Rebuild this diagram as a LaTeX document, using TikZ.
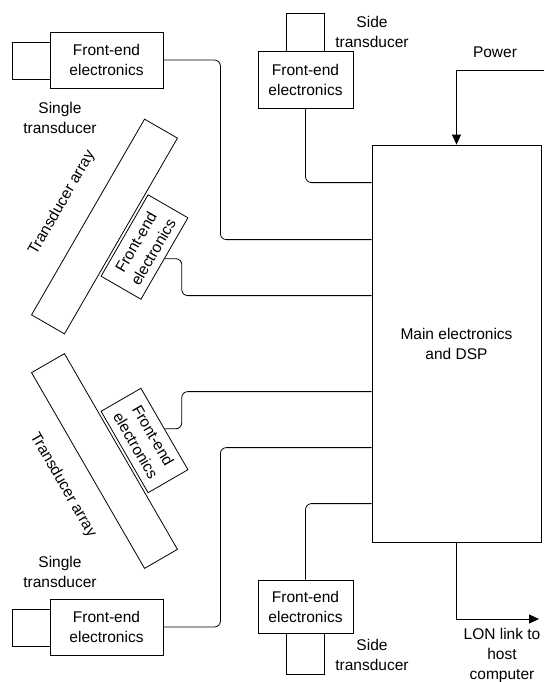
\documentclass[tikz,border=0pt]{standalone}
\usepackage{fontspec}
\setmainfont{Liberation Sans}
\usetikzlibrary{arrows.meta,calc}
\newcommand\diagfont{\fontsize{15.5}{20}\selectfont}
\begin{document}
\begin{tikzpicture}[x=1pt,y=-1pt,
  box/.style={draw,line width=0.8pt,inner sep=0pt,align=center,font=\diagfont,fill=white},
  lbl/.style={inner sep=0pt,align=center,font=\diagfont},
  wire/.style={draw,line width=0.8pt,rounded corners=6pt},
  arr/.style={draw,line width=0.8pt,-{Triangle[length=10pt,width=9pt]}}]
\useasboundingbox (0,0) rectangle (544,682);

% main box
\node[box,minimum width=169pt,minimum height=397pt] (main) at (456.5,343.5) {Main electronics\\and DSP};

% top-left single transducer
\node[box,minimum width=38pt,minimum height=37pt] (sqtl) at (31,60.5) {};
\node[box,minimum width=113pt,minimum height=56pt] (fetl) at (106.5,60) {Front-end\\electronics};
\node[lbl] (sttl) at (60,118) {Single\\transducer};

% top side transducer
\node[box,minimum width=38pt,minimum height=38pt] (sqts) at (305,32) {};
\node[box,minimum width=95pt,minimum height=57pt] (fets) at (305.5,79.5) {Front-end\\electronics};
\node[lbl] (stts) at (372,32) {Side\\transducer};

% upper transducer array
\node[box,minimum width=226pt,minimum height=38pt,rotate=60] (arr1) at (104.5,226.5) {};
\node[lbl,rotate=60] (arr1l) at (62,203) {Transducer array};
\node[box,minimum width=94pt,minimum height=46pt,rotate=60] (fe1) at (144.5,247) {Front-end\\electronics};

% lower transducer array
\node[box,minimum width=226pt,minimum height=38pt,rotate=-60] (arr2) at (104.5,461) {};
\node[lbl,rotate=-60] (arr2l) at (63,485) {Transducer array};
\node[box,minimum width=94pt,minimum height=46pt,rotate=-60] (fe2) at (144.5,440.5) {Front-end\\electronics};

% bottom-left single transducer
\node[lbl] (stbl) at (60,572) {Single\\transducer};
\node[box,minimum width=38pt,minimum height=37pt] (sqbl) at (31,627.5) {};
\node[box,minimum width=113pt,minimum height=56pt] (febl) at (106.5,627) {Front-end\\electronics};

% bottom side transducer
\node[box,minimum width=95pt,minimum height=53pt] (febs) at (305.5,606.5) {Front-end\\electronics};
\node[box,minimum width=38pt,minimum height=41pt] (sqbs) at (305,653.5) {};
\node[lbl] (stbs) at (372,655) {Side\\transducer};

% wire end points on main box
\path (main.north west) ++(0,38) coordinate (w1);
\path (main.north west) ++(0,95) coordinate (w2);
\path (main.north west) ++(0,151) coordinate (w3);
\path (main.north west) ++(0,247) coordinate (w4);
\path (main.north west) ++(0,303) coordinate (w5);
\path (main.north west) ++(0,359) coordinate (w6);

\draw[wire] (fets.south) |- (w1);
\draw[wire] (fetl.east) -- ++(57,0) |- (w2);
\draw[wire] (fe1.south) -- ++(17,0) |- (w3);
\draw[wire] (fe2.north) -- ++(17,0) |- (w4);
\draw[wire] (febl.east) -- ++(57,0) |- (w5);
\draw[wire] (febs.north) |- (w6);

% power
\coordinate (pwr) at (544,70);
\node[lbl] (pwrl) at (495,52) {Power};
\draw[arr] (pwr) -| (main.north);

% LON link
\coordinate (lon) at (539,619);
\draw[arr] (main.south) |- (lon);
\node[lbl] (lonl) at (502,655) {LON link to\\host\\computer};
\end{tikzpicture}
\end{document}
